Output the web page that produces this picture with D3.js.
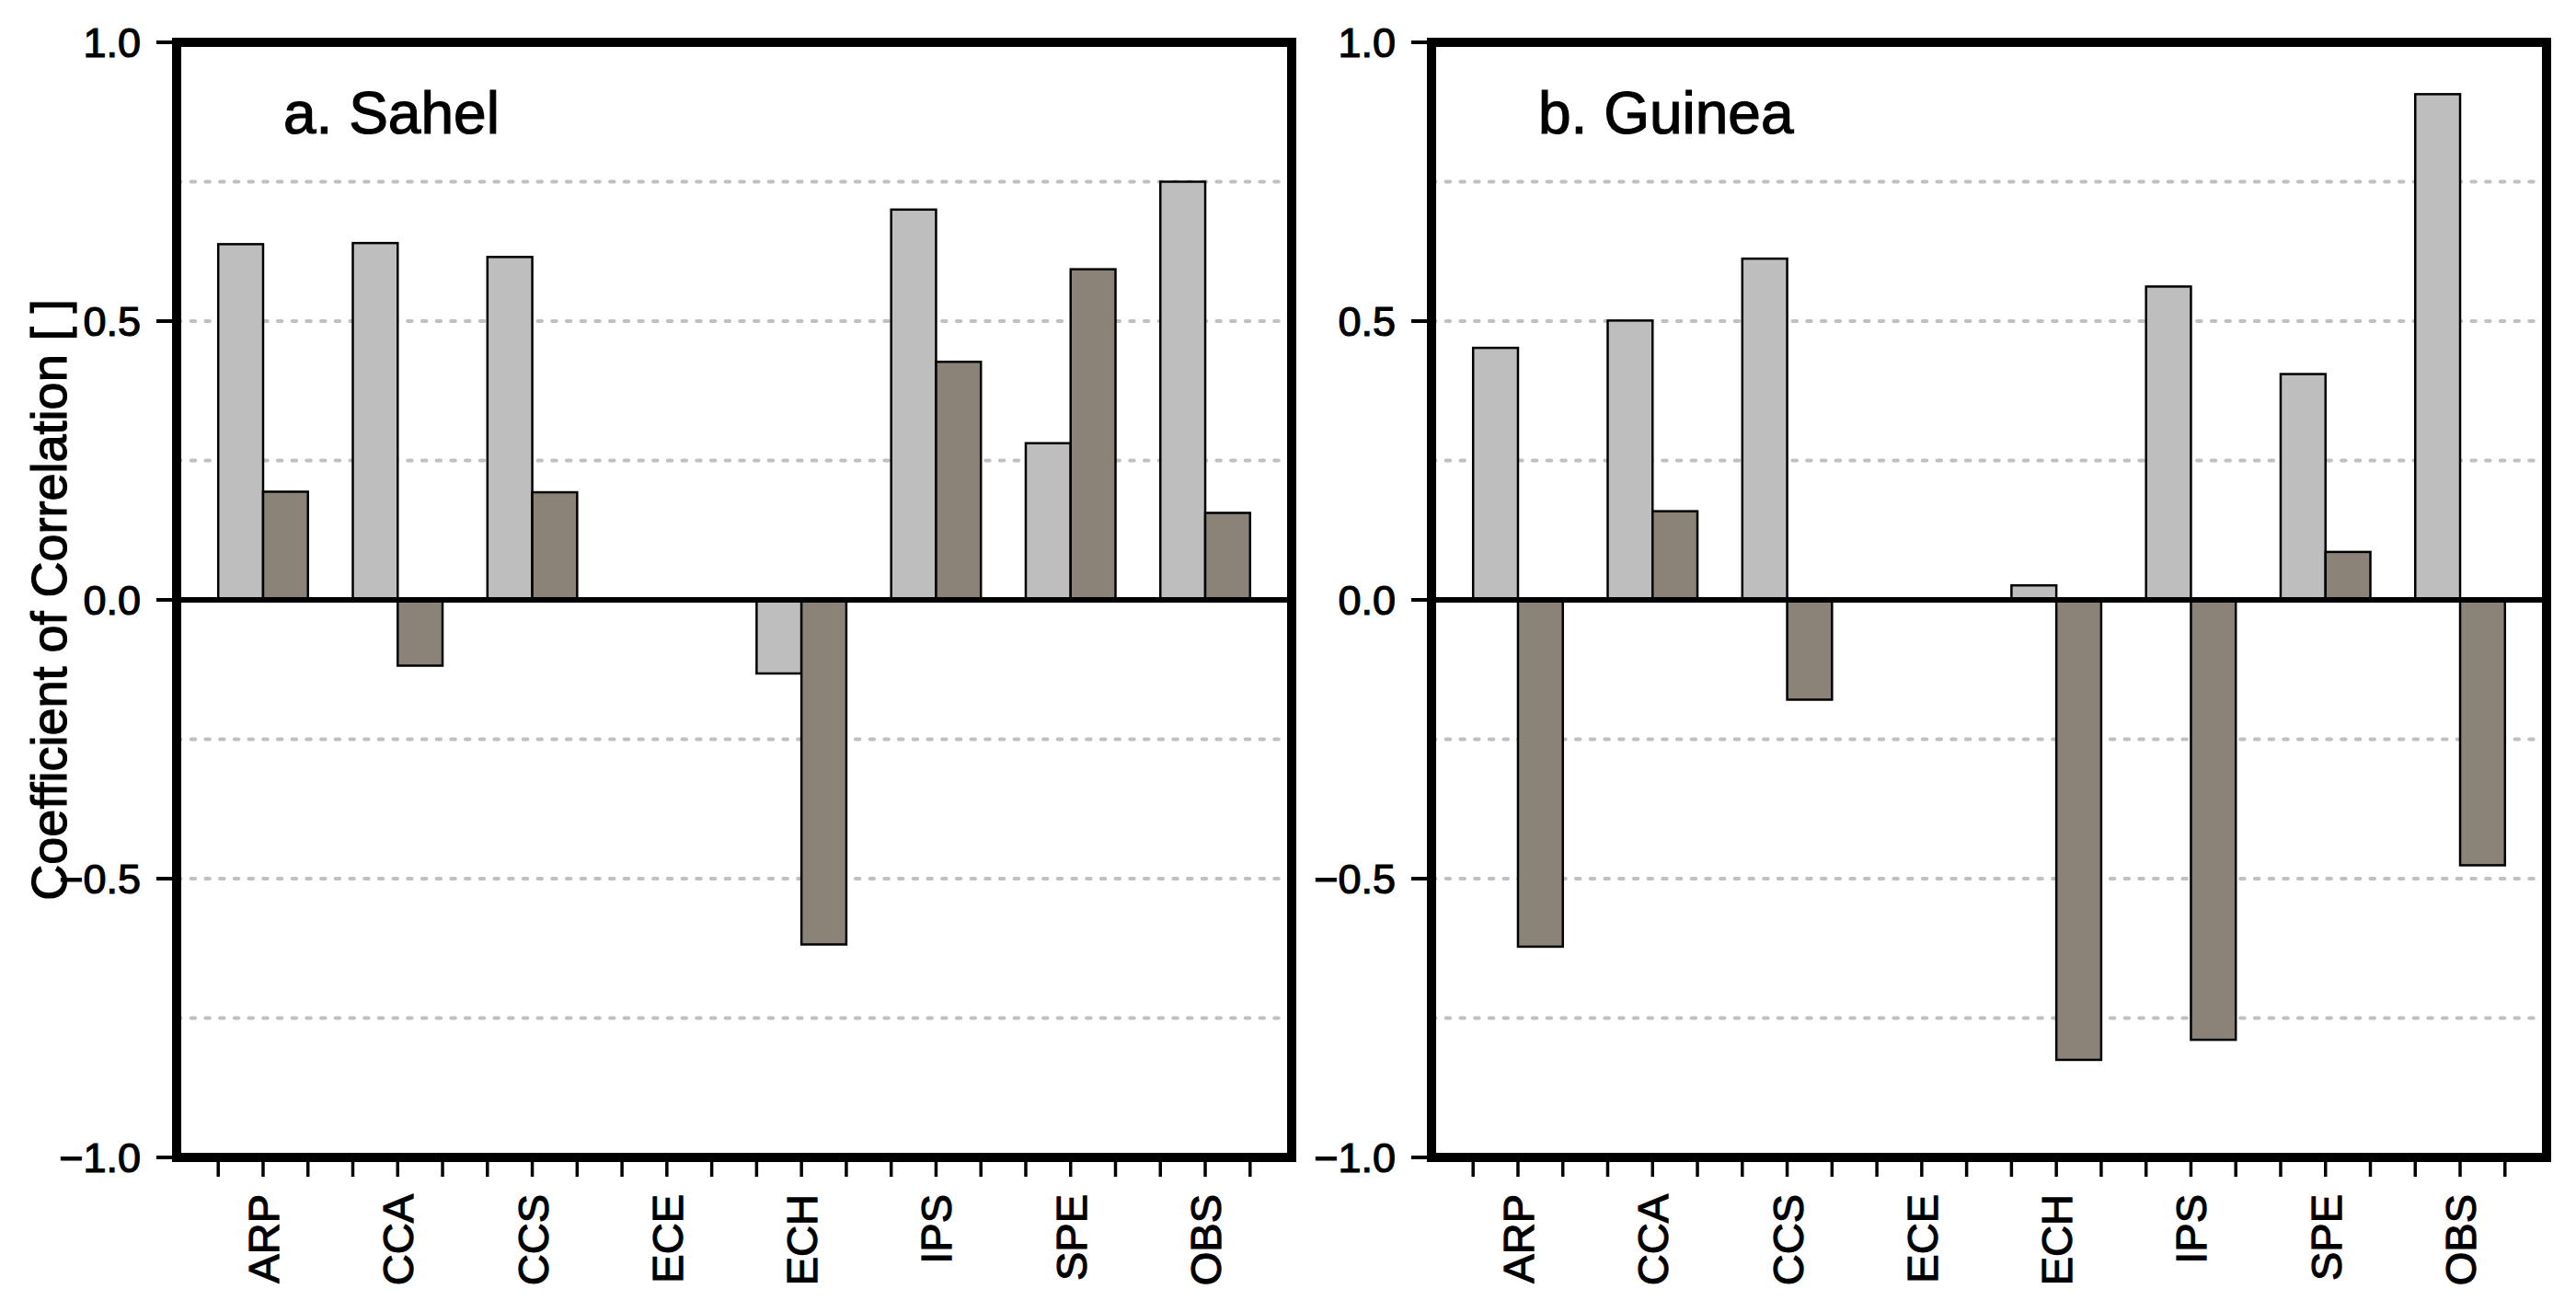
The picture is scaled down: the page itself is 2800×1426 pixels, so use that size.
<!DOCTYPE html>
<html>
<head>
<meta charset="utf-8">
<script src="https://cdn.jsdelivr.net/npm/d3@7"></script>
<style>
  body { margin: 0; background: #fff; }
  text { font-family: "Liberation Sans", Arial, Helvetica, sans-serif; fill: #000; stroke: #000; stroke-width: 1.2px; }
</style>
</head>
<body>
<script>
// model names along the x axis
const models = ["ARP", "CCA", "CCS", "ECE", "ECH", "IPS", "SPE", "OBS"];

// correlation values, null = no bar (ECE)
const sahelLight  = [0.638, 0.640, 0.615, null, -0.132, 0.700, 0.281, 0.750];
const sahelDark   = [0.194, -0.118, 0.193, null, -0.618, 0.427, 0.593, 0.156];
const guineaLight = [0.452, 0.501, 0.612, null, 0.026, 0.562, 0.405, 0.907];
const guineaDark  = [-0.622, 0.159, -0.179, null, -0.825, -0.789, 0.086, -0.476];

const yTicks = [-1.0, -0.5, 0.0, 0.5, 1.0];
const gridVals = [-0.75, -0.5, -0.25, 0.25, 0.5, 0.75];

const panels = [
  { title: "a. Sahel", left: 192, light: sahelLight, dark: sahelDark, ylabel: true },
  { title: "b. Guinea", left: 1556, light: guineaLight, dark: guineaDark, ylabel: false }
];

const width = 2800, height = 1426;
const plotW = 1212, plotTop = 46, plotBottom = 1258;
const lightColor = "#bebebe", darkColor = "#8b8378";

const svg = d3.select("body").append("svg")
  .attr("width", width)
  .attr("height", height);

const y = d3.scaleLinear().domain([-1, 1]).range([plotBottom, plotTop]);

panels.forEach(p => {
  const g = svg.append("g").attr("transform", `translate(${p.left},0)`);

  // groups: 2 bars + 1 empty slot each
  const x = d3.scaleBand().domain(models).range([0, plotW])
    .paddingInner(1 / 3).paddingOuter(0.309);
  const sub = d3.scaleBand().domain([0, 1]).range([0, x.bandwidth()]);
  const slot = sub.bandwidth();

  // dotted grid
  g.selectAll(".grid")
    .data(gridVals)
    .enter().append("line")
    .attr("x1", 0).attr("x2", plotW)
    .attr("y1", d => y(d)).attr("y2", d => y(d))
    .style("stroke", "#c0c0c0")
    .style("stroke-width", 4)
    .style("stroke-linecap", "round")
    .style("stroke-dasharray", "4.5,11.2");

  // bars
  const rows = models.map((m, i) => ({ m, vals: [p.light[i], p.dark[i]] }));
  rows.forEach(r => {
    r.vals.forEach((v, k) => {
      if (v === null) return;
      g.append("rect")
        .attr("x", x(r.m) + sub(k))
        .attr("width", slot)
        .attr("y", y(Math.max(0, v)))
        .attr("height", Math.abs(y(v) - y(0)))
        .style("fill", k === 0 ? lightColor : darkColor)
        .style("stroke", "#000")
        .style("stroke-width", 2.5);
    });
  });

  // zero line
  g.append("line")
    .attr("x1", 0).attr("x2", plotW)
    .attr("y1", y(0)).attr("y2", y(0))
    .style("stroke", "#000").style("stroke-width", 6);

  // x ticks at every slot boundary
  const xt = [];
  models.forEach(m => { xt.push(x(m), x(m) + slot, x(m) + 2 * slot); });
  g.selectAll(".xtick")
    .data(xt)
    .enter().append("line")
    .attr("x1", d => d).attr("x2", d => d)
    .attr("y1", plotBottom + 4).attr("y2", plotBottom + 21)
    .style("stroke", "#000").style("stroke-width", 3.5);

  // x labels
  g.selectAll(".xlab")
    .data(models)
    .enter().append("text")
    .attr("transform", d => `translate(${x(d) + slot + 17},${plotBottom + 40}) rotate(-90)`)
    .attr("text-anchor", "end")
    .style("font-size", "47px")
    .text(d => d);

  // y ticks + labels
  g.selectAll(".ytick")
    .data(yTicks)
    .enter().append("line")
    .attr("x1", -22).attr("x2", 0)
    .attr("y1", d => y(d)).attr("y2", d => y(d))
    .style("stroke", "#000").style("stroke-width", 4);

  g.selectAll(".ylab")
    .data(yTicks)
    .enter().append("text")
    .attr("x", -39)
    .attr("y", d => y(d))
    .attr("dy", "0.36em")
    .attr("text-anchor", "end")
    .style("font-size", "45px")
    .text(d => d3.format(".1f")(d).replace("-", "\u2212"));

  // frame
  g.append("rect")
    .attr("x", 0).attr("y", plotTop)
    .attr("width", plotW).attr("height", plotBottom - plotTop)
    .style("fill", "none")
    .style("stroke", "#000")
    .style("stroke-width", 10);

  // panel title
  g.append("text")
    .attr("x", 116).attr("y", 145)
    .style("font-size", "64px")
    .text(p.title);

  if (p.ylabel) {
    svg.append("text")
      .attr("transform", `translate(72,${y(0)}) rotate(-90)`)
      .attr("text-anchor", "middle")
      .style("font-size", "54px")
      .text("Coefficient of Correlation [ ]");
  }
});
</script>
</body>
</html>
